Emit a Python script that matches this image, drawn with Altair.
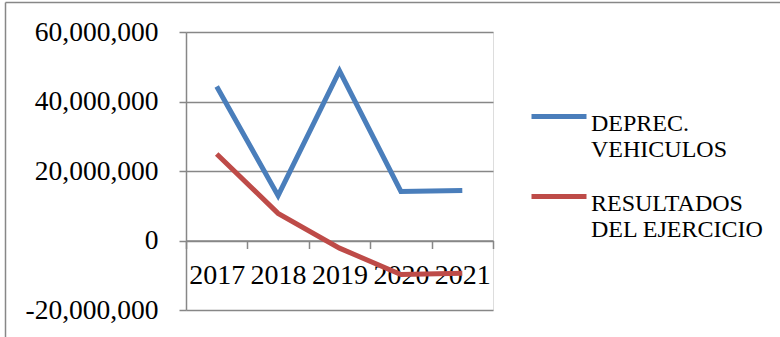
import altair as alt
import pandas as pd

# Series values per year
years = ["2017", "2018", "2019", "2020", "2021"]
deprec_vehiculos = [44300000, 12900000, 48800000, 14100000, 14400000]
resultados_ejercicio = [24900000, 7800000, -2200000, -9800000, -9400000]

series_names = ["DEPREC. VEHICULOS", "RESULTADOS DEL EJERCICIO"]
series_colors = ["#4A7EBB", "#BE4B48"]
y_ticks = [-20000000, 0, 20000000, 40000000, 60000000]

rows = []
for name, values in zip(series_names, [deprec_vehiculos, resultados_ejercicio]):
    for year, v in zip(years, values):
        rows.append({"year": year, "value": v, "serie": name})
df = pd.DataFrame(rows)

FONT = "Liberation Serif"
GRID = "#878787"

W, H = 307, 278

lines = alt.Chart(df).mark_line(strokeWidth=5, strokeCap="butt", strokeJoin="miter").encode(
    x=alt.X(
        "year:O",
        sort=years,
        scale=alt.Scale(type="band", paddingInner=0, paddingOuter=0),
        axis=alt.Axis(
            title=None,
            labelAngle=0,
            labelFont=FONT,
            labelFontSize=28,
            labelColor="black",
            labelPadding=13,
            labelOverlap=False,
            labelBaseline="top",
            tickBand="extent",
            tickSize=8,
            tickColor=GRID,
            tickWidth=1.5,
            domainColor=GRID,
            domainWidth=1.5,
            offset=-H * 20 / 80,
            grid=False,
        ),
    ),
    y=alt.Y(
        "value:Q",
        scale=alt.Scale(domain=[-20000000, 60000000], nice=False),
        axis=alt.Axis(
            title=None,
            values=y_ticks,
            labelExpr="replace(format(datum.value, ',.0f'), '\u2212', '-')",
            labelFont=FONT,
            labelFontSize=27.5,
            labelColor="black",
            labelPadding=21,
            tickSize=7,
            tickColor=GRID,
            tickWidth=1.5,
            domainColor=GRID,
            domainWidth=1.5,
            grid=True,
            gridColor=GRID,
            gridWidth=1.5,
        ),
    ),
    color=alt.Color(
        "serie:N",
        scale=alt.Scale(domain=series_names, range=series_colors),
        legend=alt.Legend(
            title=None,
            orient="none",
            legendX=343,
            legendY=50,
            padding=0,
            symbolType="M-1,0.16L1,0.16",
            symbolSize=3025,
            symbolStrokeWidth=5,
            labelFont=FONT,
            labelFontSize=24,
            labelColor="black",
            labelOffset=2,
            labelBaseline="top",
            labelLimit=400,
            rowPadding=0,
            labelExpr="datum.label == 'RESULTADOS DEL EJERCICIO' ? ['RESULTADOS', 'DEL EJERCICIO'] : ['DEPREC.', 'VEHICULOS']",
        ),
    ),
)

# Outer frame: top and left edges
frame_data = pd.DataFrame({"k": [0]})
frame_top = alt.Chart(frame_data).mark_rule(color=GRID, strokeWidth=1.5).encode(
    x=alt.value(-180.5), x2=alt.value(594), y=alt.value(-29.5)
)
frame_left = alt.Chart(frame_data).mark_rule(color=GRID, strokeWidth=1.5).encode(
    x=alt.value(-180.5), y=alt.value(-29.5), y2=alt.value(305)
)

chart = alt.layer(lines, frame_top, frame_left).properties(
    width=W,
    height=H,
    autosize=alt.AutoSizeParams(type="none"),
    padding={"left": 186, "top": 32, "right": 287, "bottom": 27},
).configure_view(stroke=None).configure(background="white")

chart.save("out.html", embed_options={"renderer": "svg", "actions": False})
